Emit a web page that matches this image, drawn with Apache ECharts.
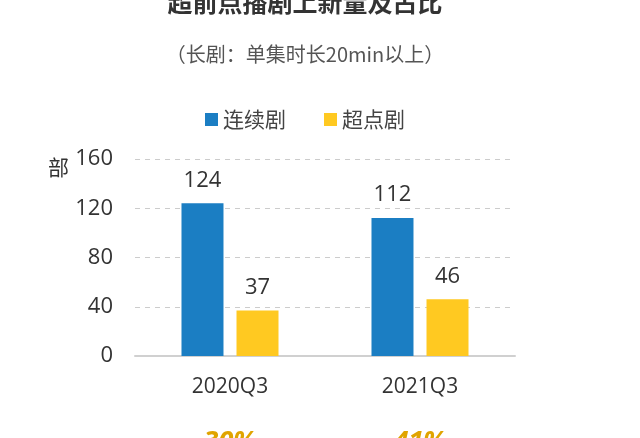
<!DOCTYPE html>
<html>
<head>
<meta charset="utf-8">
<script src="https://cdn.jsdelivr.net/npm/echarts@6/dist/echarts.min.js"></script>
<style>
html,body{margin:0;padding:0;background:#fff;}
#main{width:640px;height:438px;}
</style>
</head>
<body>
<div id="main"></div>
<script>
// 数据
var categories = ['2020Q3', '2021Q3'];
var serialData = [124, 112];   // 连续剧
var superData = [37, 46];      // 超点剧
var ratioLabels = ['30%', '41%']; // 超点剧占比
var seriesNames = ['连续剧', '超点剧'];
var yTicks = {min: 0, max: 160, interval: 40};

var fontFam = '"Open Sans","Noto Sans CJK SC",sans-serif';
var cjkFam = '"Noto Sans CJK SC",sans-serif';

var option = {
    backgroundColor: '#fff',
    title: [{
        text: '超前点播剧上新量及占比',
        left: 300,
        top: -15,
        textAlign: 'center',
        textStyle: {fontSize: 25, fontWeight: 'bold', color: '#333', fontFamily: cjkFam}
    }, {
        text: '（长剧：单集时长20min以上）',
        left: 300,
        top: 39,
        textAlign: 'center',
        textStyle: {fontSize: 20, fontWeight: 'normal', color: '#555', fontFamily: cjkFam}
    }],
    color: ['#1b7ec3', '#ffc921'],
    legend: {
        data: seriesNames,
        left: 200,
        top: 104,
        icon: 'rect',
        itemWidth: 13,
        itemHeight: 13,
        itemGap: 38,
        textStyle: {fontSize: 21, color: '#444', fontFamily: cjkFam}
    },
    grid: {left: 135, right: 125, top: 159, bottom: 82, outerBoundsMode: 'none'},
    xAxis: {
        type: 'category',
        data: categories,
        axisTick: {show: false},
        axisLine: {lineStyle: {color: '#d0d0d0', width: 2}},
        axisLabel: {
            margin: 16,
            formatter: function (val, idx) {
                return '{a|' + val + '}\n{b|' + ratioLabels[idx] + '}';
            },
            rich: {
                a: {fontSize: 21, color: '#333', lineHeight: 30, fontFamily: fontFam},
                b: {fontSize: 27, color: '#e0a400', fontWeight: 'bold', fontStyle: 'italic', lineHeight: 80, fontFamily: fontFam}
            }
        }
    },
    yAxis: {
        type: 'value',
        min: yTicks.min,
        max: yTicks.max,
        interval: yTicks.interval,
        name: '部',
        nameLocation: 'end',
        nameGap: 2,
        nameTextStyle: {fontSize: 21, color: '#333', align: 'right', verticalAlign: 'top', padding: [0, 66, 0, 0], fontFamily: cjkFam},
        axisLine: {show: false},
        axisTick: {show: false},
        axisLabel: {fontSize: 22, color: '#333', margin: 22, fontFamily: fontFam},
        splitLine: {lineStyle: {color: '#cccccc', type: [5, 5], width: 1}}
    },
    series: [{
        name: seriesNames[0],
        type: 'bar',
        data: serialData,
        barWidth: 42,
        barGap: '31%',
        label: {show: true, position: 'top', distance: 12, fontSize: 22, color: '#333', fontFamily: fontFam}
    }, {
        name: seriesNames[1],
        type: 'bar',
        data: superData,
        barWidth: 42,
        label: {show: true, position: 'top', distance: 12, fontSize: 22, color: '#333', fontFamily: fontFam}
    }]
};

var myChart = echarts.init(document.getElementById('main'));
myChart.setOption(option);
</script>
</body>
</html>
